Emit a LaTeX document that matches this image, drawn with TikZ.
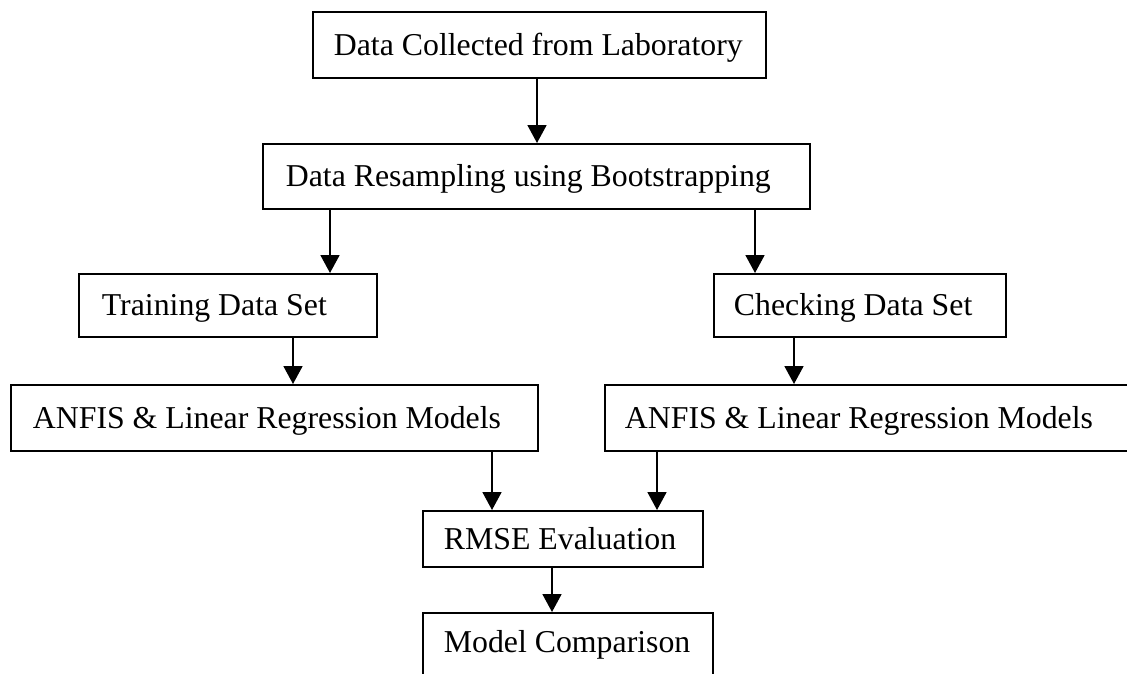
\documentclass[tikz,border=0pt]{standalone}
\usepackage{fontspec}
\setmainfont{Liberation Serif}
\usetikzlibrary{arrows.meta}
\newcommand\tx[2]{\makebox[#1][l]{#2}}
\tikzset{
  box/.style={draw, line width=1.8pt, anchor=north west, inner ysep=0pt,
    text height=24pt, text depth=3pt,
    font=\fontsize{31.8pt}{38pt}\selectfont},
  arr/.style={line width=1.8pt, -{Triangle[width=19pt,length=18pt]}}
}
\begin{document}
\begin{tikzpicture}[x=1pt,y=-1pt]
\useasboundingbox (0,0) rectangle (1127,673);
\clip (0,0) rectangle (1127,673);
\fill[white] (0,0) rectangle (1127,673);
\node[box, inner xsep=21pt, minimum height=66pt] (b1) at (312,11) {\tx{411pt}{Data Collected from Laboratory}};
\node[box, inner xsep=23pt, minimum height=65pt] (b2) at (262,143) {\tx{501pt}{Data Resampling using Bootstrapping}};
\node[box, inner xsep=23pt, minimum height=63pt] (tr) at (78,273) {\tx{252pt}{Training Data Set}};
\node[box, inner xsep=20pt, minimum height=63pt] (ck) at (713,273) {\tx{252pt}{Checking Data Set}};
\node[box, inner xsep=22pt, minimum height=66pt] (m1) at (10,384) {\tx{483pt}{ANFIS \& Linear Regression Models}};
\node[box, inner xsep=20pt, minimum height=66pt] (m2) at (604,384) {\tx{520pt}{ANFIS \& Linear Regression Models}};
\node[box, inner xsep=21pt, minimum height=56pt] (rm) at (422,510) {\tx{238pt}{RMSE Evaluation}};
\node[box, inner xsep=21pt, minimum height=66pt, text depth=10pt] (mc) at (422,612) {\tx{248pt}{Model Comparison}};
\draw[arr] (b1.south -| 537,0) -- (b2.north -| 537,0);
\draw[arr] (b2.south -| 330,0) -- (tr.north -| 330,0);
\draw[arr] (b2.south -| 755,0) -- (ck.north -| 755,0);
\draw[arr] (tr.south -| 293,0) -- (m1.north -| 293,0);
\draw[arr] (ck.south -| 794,0) -- (m2.north -| 794,0);
\draw[arr] (m1.south -| 492,0) -- (rm.north -| 492,0);
\draw[arr] (m2.south -| 657,0) -- (rm.north -| 657,0);
\draw[arr] (rm.south -| 552,0) -- (mc.north -| 552,0);
\end{tikzpicture}
\end{document}
